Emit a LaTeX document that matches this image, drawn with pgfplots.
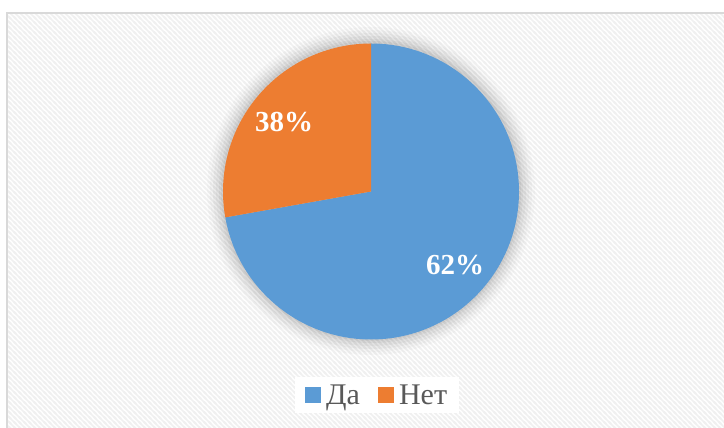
\documentclass[border=0pt]{standalone}
\usepackage{fontspec}
\setmainfont{Liberation Serif}
\usepackage{pgfplots}
\pgfplotsset{compat=1.18}
\usetikzlibrary{patterns}

\definecolor{dablue}{HTML}{5B9BD5}
\definecolor{netorange}{HTML}{ED7D31}
\definecolor{framegray}{HTML}{D9D9D9}
\definecolor{legtext}{HTML}{595959}

% wide diagonal stripes for the chart background
\pgfdeclarepatternformonly{wide stripes}{\pgfqpoint{-1pt}{-1pt}}{\pgfqpoint{6pt}{6pt}}{\pgfqpoint{5pt}{5pt}}{
  \pgfsetlinewidth{1.6pt}
  \pgfpathmoveto{\pgfqpoint{-1pt}{6pt}}\pgfpathlineto{\pgfqpoint{6pt}{-1pt}}
  \pgfpathmoveto{\pgfqpoint{-1pt}{1pt}}\pgfpathlineto{\pgfqpoint{1pt}{-1pt}}
  \pgfpathmoveto{\pgfqpoint{4pt}{6pt}}\pgfpathlineto{\pgfqpoint{6pt}{4pt}}
  \pgfusepath{stroke}
}

% share of the circle as drawn (the chart's labels read 62% / 38%)
\def\shareNet{27.8}
\pgfmathsetmacro\splitangle{90+3.6*\shareNet}

\begin{document}
\begin{tikzpicture}[x=1pt,y=1pt]
\path[use as bounding box] (0,0) rectangle (724,428);
\begin{scope}
  \clip (0,0) rectangle (724,428);
  \fill[white] (0,0) rectangle (724,428);
  \fill[pattern=wide stripes, pattern color=black!6] (7,-5) rectangle (730,415);
  \draw[framegray, line width=1.5pt] (7,-5) rectangle (730,415);
\end{scope}
\begin{axis}[
  x=1pt, y=1pt,
  xmin=0, xmax=724, ymin=0, ymax=428,
  at={(0,0)}, anchor=origin,
  hide axis, clip=false,
  legend image code/.code={\fill[#1, draw=none] (0pt,-8pt) rectangle (16pt,8pt);\path (19pt,0pt);},
  legend columns=2,
  legend style={
    at={(axis cs:377,33)}, anchor=center,
    draw=none, fill=white,
    font=\fontsize{30}{32}\selectfont, text=legtext,
    inner xsep=10pt, inner ysep=5pt,
    /tikz/every even column/.append style={column sep=16pt},
  },
]
% soft glow around the pie
\fill[black, opacity=0.02] (axis cs:371,237) circle[radius=164pt];
\fill[black, opacity=0.025] (axis cs:371,237) circle[radius=161pt];
\fill[black, opacity=0.03] (axis cs:371,237) circle[radius=158pt];
\fill[black, opacity=0.035] (axis cs:371,237) circle[radius=155pt];
\fill[black, opacity=0.04] (axis cs:371,237) circle[radius=152pt];
\fill[black, opacity=0.04] (axis cs:371,237) circle[radius=150pt];

% slices
\fill[dablue] (axis cs:371,236.5) -- ++(90:148pt)
  arc[start angle=90, end angle=\splitangle-360, radius=148pt] -- cycle;
\fill[netorange] (axis cs:371,236.5) -- ++(90:148pt)
  arc[start angle=90, end angle=\splitangle, radius=148pt] -- cycle;

\node[text=white, font=\bfseries\fontsize{29}{32}\selectfont] at (axis cs:455,163) {62\%};
\node[text=white, font=\bfseries\fontsize{29}{32}\selectfont] at (axis cs:284,306) {38\%};

\addlegendimage{fill=dablue}
\addlegendentry{Да}
\addlegendimage{fill=netorange}
\addlegendentry{Нет}
\end{axis}
\end{tikzpicture}
\end{document}
